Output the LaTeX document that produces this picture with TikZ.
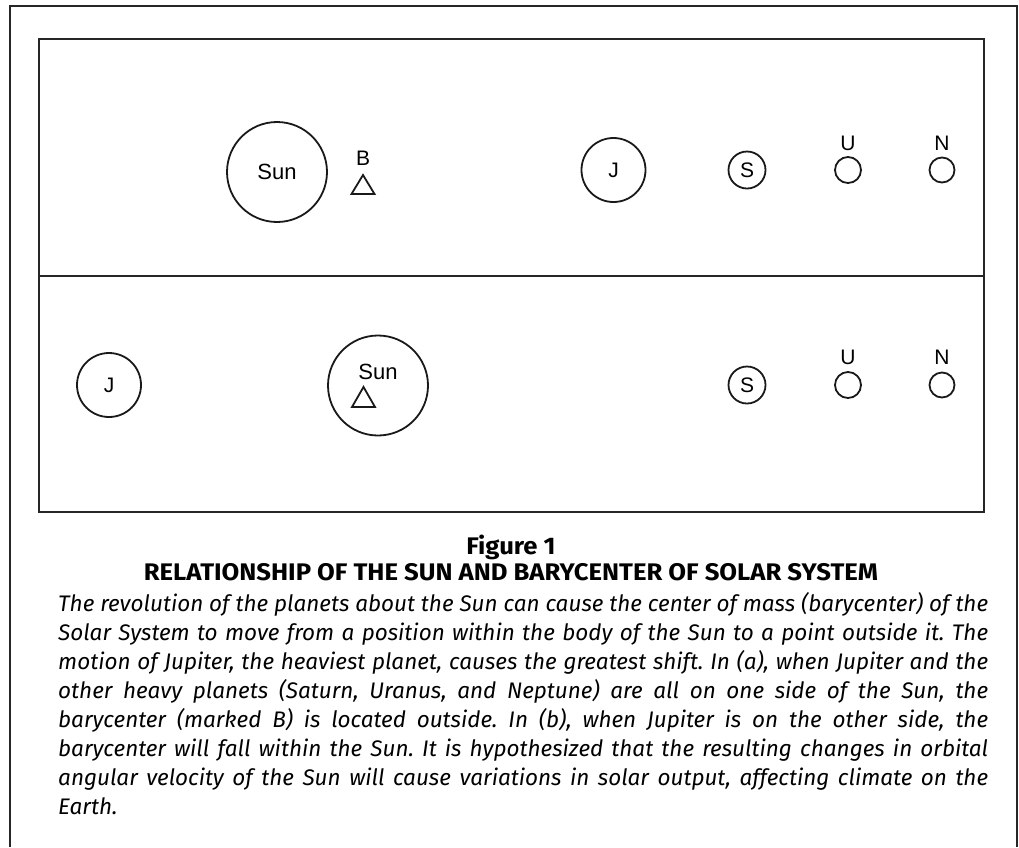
\documentclass[tikz,border=0pt]{standalone}
\usepackage{fontspec}
\setmainfont{Fira Sans}
\newfontfamily\titlefont[FakeStretch=1.07]{Fira Sans}
\newfontfamily\lblfont{Liberation Sans}
\begin{document}
\begin{tikzpicture}[x=1pt,y=-1pt,
  frame/.style={draw=black!85,line width=2pt},
  body/.style={draw=black!90,line width=1.8pt,circle,inner sep=0pt,font=\lblfont\fontsize{21}{21}\selectfont},
  lbl/.style={font=\lblfont\fontsize{21}{21}\selectfont,inner sep=0pt},
  bary/.style={draw=black!90,line width=1.8pt,line join=miter},
  titletext/.style={font=\titlefont\bfseries\fontsize{24}{24}\selectfont,inner sep=0pt}]
\useasboundingbox (0,0) rectangle (1019,847);
% frames
\draw[frame] (9.5,847) -- (9.5,6) -- (1017,6) -- (1017,847);
\draw[frame] (38.5,39) rectangle (984,512);
\draw[frame] (38.5,276) -- (984,276);
% panel (a)
\node[body,minimum size=100pt,font=\lblfont\fontsize{22}{22}\selectfont] (sunA) at (277,172) {Sun};
\node[lbl] (bA) at (363,158) {B};
\draw[bary] (351.5,194) -- (363,175) -- (374.5,194) -- cycle;
\node[body,minimum size=64pt] (jA) at (613.5,170) {J};
\node[body,minimum size=37pt] (sA) at (747,170) {S};
\node[body,minimum size=26pt] (uA) at (848,170) {};
\node[lbl] (uAl) at (848,143) {U};
\node[body,minimum size=25pt] (nA) at (942,170) {};
\node[lbl] (nAl) at (942,143) {N};
% panel (b)
\node[body,minimum size=64pt] (jB) at (109,385) {J};
\node[body,minimum size=100pt] (sunB) at (378,385.5) {};
\node[lbl,font=\lblfont\fontsize{22}{22}\selectfont] (sunBl) at (378,372) {Sun};
\draw[bary] (352,407) -- (363.5,387) -- (375,407) -- cycle;
\node[body,minimum size=37pt] (sB) at (747,385) {S};
\node[body,minimum size=26pt] (uB) at (848,385) {};
\node[lbl] (uBl) at (848,357) {U};
\node[body,minimum size=25pt] (nB) at (942,385) {};
\node[lbl] (nBl) at (942,357) {N};
% caption
\node[titletext] (fig) at (511,547) {Figure 1};
\node[titletext] (title) at (511,572) {RELATIONSHIP OF THE SUN AND BARYCENTER OF SOLAR SYSTEM};
\node[anchor=north west,inner sep=0pt,text width=930pt,align=justify,
      font=\itshape\fontsize{22.5}{29}\selectfont] (cap) at (58,592) {\frenchspacing%
The revolution of the planets about the Sun can cause the center of mass (barycenter) of the\linebreak
Solar System to move from a position within the body of the Sun to a point outside it. The\linebreak
motion of Jupiter, the heaviest planet, causes the greatest shift. In (a), when Jupiter and the\linebreak
other heavy planets (Saturn, Uranus, and Neptune) are all on one side of the Sun, the\linebreak
barycenter (marked B) is located outside. In (b), when Jupiter is on the other side, the\linebreak
barycenter will fall within the Sun. It is hypothesized that the resulting changes in orbital\linebreak
angular velocity of the Sun will cause variations in solar output, affecting climate on the\linebreak
Earth.};
\end{tikzpicture}
\end{document}
